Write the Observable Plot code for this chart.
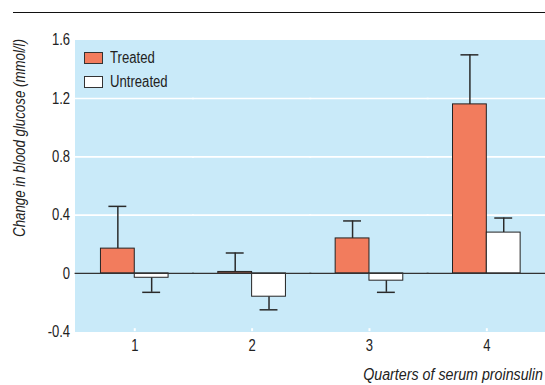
<!DOCTYPE html>
<html>
<head>
<meta charset="utf-8">
<script src="https://cdn.jsdelivr.net/npm/d3@7"></script>
<script src="https://cdn.jsdelivr.net/npm/@observablehq/plot@0.6"></script>
<style>
  html, body { margin: 0; padding: 0; background: #fff; }
  #wrap { position: relative; width: 545px; height: 385px; overflow: hidden;
          font-family: "Liberation Sans", Arial, sans-serif; color: #222; }
  #topline { position: absolute; left: 13px; top: 12px; width: 540px; border-top: 1px solid #111; }
  #chart { position: absolute; left: 0; top: 0; }
  #ylabel { position: absolute; left: 20px; top: 138px; transform: translate(-50%, -50%) rotate(-90deg) scale(0.83, 1);
            white-space: nowrap; font-style: italic; font-size: 16px; line-height: 16px; }
  #caption { position: absolute; right: 2px; top: 367px; white-space: nowrap; font-style: italic;
             font-size: 16px; line-height: 16px; transform: scale(0.89, 1); transform-origin: right center; }
  .leg { position: absolute; left: 84px; display: flex; align-items: center; font-size: 16px; line-height: 16px; }
  .leg span { display: inline-block; transform: scale(0.82, 1); transform-origin: left center; }
  .sw { width: 19px; height: 12px; box-sizing: border-box; border: 1px solid #333; margin-right: 7px; }
</style>
</head>
<body>
<div id="wrap">
  <div id="topline"></div>
  <div id="chart"></div>
  <div id="ylabel"></div>
  <div id="caption"></div>
  <div id="legend"></div>
</div>
<script>
// ---- data ----
const quarters = [1, 2, 3, 4];
const seriesNames = ["Treated", "Untreated"];
const treated = [0.17, 0.01, 0.24, 1.16];
const treatedErr = [0.46, 0.14, 0.36, 1.50];
const untreated = [-0.03, -0.16, -0.05, 0.28];
const untreatedErr = [-0.13, -0.25, -0.13, 0.38];
const yTicks = [-0.4, 0, 0.4, 0.8, 1.2, 1.6];
const yTickLabels = ["-0.4", "0", "0.4", "0.8", "1.2", "1.6"];
const gridValues = [0.4, 0.8, 1.2];
const yLabel = "Change in blood glucose (mmol/l)";
const xLabel = "Quarters of serum proinsulin";

const blue = "#c9eaf9";
const orange = "#f27c5d";
const fontFamily = '"Liberation Sans", Arial, sans-serif';

const rows = quarters.flatMap((q, i) => [
  {q, s: seriesNames[0], v: treated[i], e: treatedErr[i]},
  {q, s: seriesNames[1], v: untreated[i], e: untreatedErr[i]}
]);

const chart = Plot.plot({
  width: 548,
  height: 385,
  marginLeft: 76,
  marginRight: 0,
  marginTop: 40,
  marginBottom: 52,
  style: {fontFamily, fontSize: "16px", color: "#222", background: "transparent", overflow: "visible"},
  fx: {domain: quarters, padding: 0, label: null},
  x: {domain: seriesNames, paddingInner: 0, paddingOuter: 0.7, axis: null},
  y: {domain: [-0.4, 1.6], axis: null},
  color: {domain: seriesNames, range: [orange, "#ffffff"]},
  marks: [
    Plot.frame({fill: blue, stroke: "none", insetLeft: -1, insetRight: -1, shapeRendering: "crispEdges"}),
    Plot.ruleY(gridValues, {stroke: "white", strokeWidth: 1.6, insetLeft: -1, insetRight: -1}),
    Plot.ruleX(rows, {fx: "q", x: "s", y1: "v", y2: "e", stroke: "#2a2a2a", strokeWidth: 1.5}),
    Plot.tickY(rows, {fx: "q", x: "s", y: "e", stroke: "#2a2a2a", strokeWidth: 1.5, inset: 8}),
    Plot.barY(rows, {fx: "q", x: "s", y: "v", fill: "s", stroke: "#222", strokeWidth: 1}),
    Plot.ruleY([0], {stroke: "#333", strokeWidth: 1.2, insetLeft: -1, insetRight: -1}),
    Plot.axisY({ticks: yTicks, tickFormat: d => yTickLabels[yTicks.indexOf(d)], tickSize: 0, tickPadding: 6, label: null}),
    Plot.axisFx({anchor: "bottom", tickSize: -3, tickPadding: 11, stroke: "white", strokeWidth: 2, label: null})
  ]
});
// condense the SVG text horizontally (narrow Helvetica look)
chart.querySelectorAll("text").forEach(t => {
  const tr = t.getAttribute("transform") || "";
  t.setAttribute("transform", tr + " scale(0.82,1)");
});
document.getElementById("chart").appendChild(chart);

document.getElementById("ylabel").textContent = yLabel;
document.getElementById("caption").textContent = xLabel;

const legend = document.getElementById("legend");
seriesNames.forEach((name, i) => {
  const item = document.createElement("div");
  item.className = "leg";
  item.style.top = (50 + i * 24) + "px";
  const sw = document.createElement("div");
  sw.className = "sw";
  sw.style.background = i === 0 ? orange : "#ffffff";
  const label = document.createElement("span");
  label.textContent = name;
  item.appendChild(sw);
  item.appendChild(label);
  legend.appendChild(item);
});
</script>
</body>
</html>
